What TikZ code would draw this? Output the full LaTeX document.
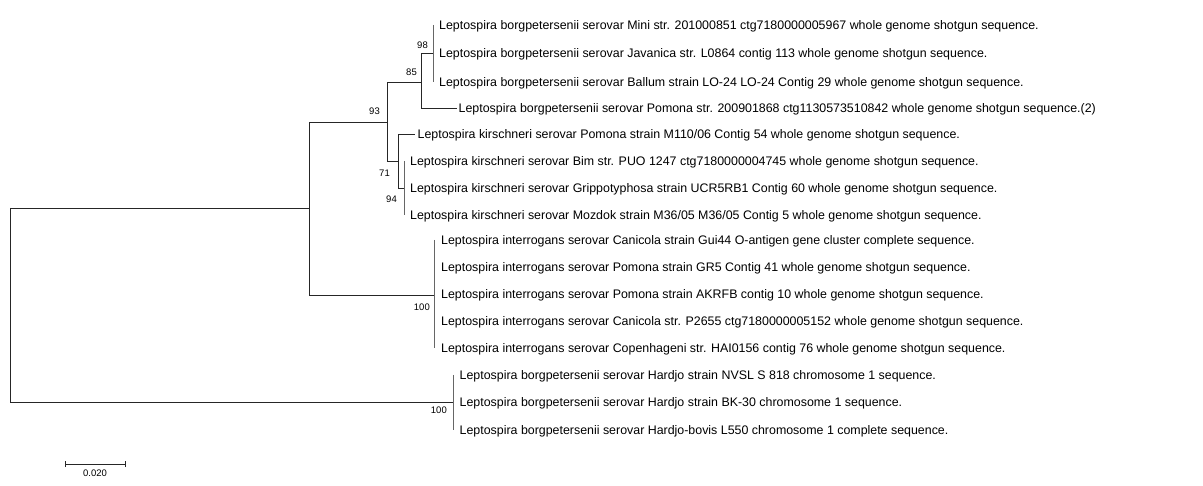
\documentclass[tikz,border=0pt]{standalone}
\usepackage{fontspec}
\setmainfont{Liberation Sans}
\begin{document}
\begin{tikzpicture}[x=1bp,y=-1bp,
  br/.style={draw=black!85,line width=0.9bp},
  zbr/.style={draw=black!60,line width=0.9bp},
  leaf/.style={anchor=base west,inner sep=0pt,font=\fontsize{12.4bp}{14bp}\selectfont},
  boot/.style={anchor=base east,inner sep=0pt,font=\fontsize{9.5bp}{11bp}\selectfont}]
\useasboundingbox (0,0) rectangle (1203,486);
% internal nodes
\coordinate (root) at (10,208);
\coordinate (A) at (309.5,208);
\coordinate (B) at (387,122);
\coordinate (C) at (421,82);
\coordinate (D) at (433.5,53.5);
\coordinate (E) at (398,161);
\coordinate (F) at (404,188);
\coordinate (G) at (434,295);
\coordinate (H) at (453.5,402);
% leaf tips
\coordinate (t1) at (433.5,25);
\coordinate (t2) at (433.5,53.5);
\coordinate (t3) at (433.5,82);
\coordinate (t4) at (457,108);
\coordinate (t5) at (415,134.5);
\coordinate (t6) at (404,161);
\coordinate (t7) at (404,188);
\coordinate (t8) at (404,215);
\coordinate (t9) at (434,240);
\coordinate (t10) at (434,348);
\coordinate (t11) at (453.5,375);
\coordinate (t12) at (453.5,430);
% branches
\draw[br] (root) |- (A);
\draw[br] (root) |- (H);
\draw[br] (A) |- (B);
\draw[br] (A) |- (G);
\draw[br] (B) |- (C);
\draw[br] (B) |- (E);
\draw[br] (C) |- (D);
\draw[br] (C) |- (t4);
\draw[br] (E) |- (t5);
\draw[br] (E) |- (F);
\draw[zbr] (t1) -- (t3);
\draw[zbr] (t6) -- (t8);
\draw[zbr] (t9) -- (t10);
\draw[zbr] (t11) -- (t12);
% leaf labels
\node[leaf] (l1) at (439,29.5) {Leptospira borgpetersenii serovar Mini str. 201000851 ctg7180000005967 whole genome shotgun sequence.};
\node[leaf] (l2) at (439,58) {Leptospira borgpetersenii serovar Javanica str. L0864 contig 113 whole genome shotgun sequence.};
\node[leaf] (l3) at (439,86.5) {Leptospira borgpetersenii serovar Ballum strain LO-24 LO-24 Contig 29 whole genome shotgun sequence.};
\node[leaf] (l4) at (458.5,112.5) {Leptospira borgpetersenii serovar Pomona str. 200901868 ctg1130573510842 whole genome shotgun sequence.(2)};
\node[leaf] (l5) at (417.5,139) {Leptospira kirschneri serovar Pomona strain M110/06 Contig 54 whole genome shotgun sequence.};
\node[leaf] (l6) at (410,165.5) {Leptospira kirschneri serovar Bim str. PUO 1247 ctg7180000004745 whole genome shotgun sequence.};
\node[leaf] (l7) at (410,192.5) {Leptospira kirschneri serovar Grippotyphosa strain UCR5RB1 Contig 60 whole genome shotgun sequence.};
\node[leaf] (l8) at (410,219.5) {Leptospira kirschneri serovar Mozdok strain M36/05 M36/05 Contig 5 whole genome shotgun sequence.};
\node[leaf] (l9) at (441,244.5) {Leptospira interrogans serovar Canicola strain Gui44 O-antigen gene cluster complete sequence.};
\node[leaf] (l10) at (441,271.5) {Leptospira interrogans serovar Pomona strain GR5 Contig 41 whole genome shotgun sequence.};
\node[leaf] (l11) at (441,298.5) {Leptospira interrogans serovar Pomona strain AKRFB contig 10 whole genome shotgun sequence.};
\node[leaf] (l12) at (441,325.5) {Leptospira interrogans serovar Canicola str. P2655 ctg7180000005152 whole genome shotgun sequence.};
\node[leaf] (l13) at (441,352.5) {Leptospira interrogans serovar Copenhageni str. HAI0156 contig 76 whole genome shotgun sequence.};
\node[leaf] (l14) at (459.5,379.5) {Leptospira borgpetersenii serovar Hardjo strain NVSL S 818 chromosome 1 sequence.};
\node[leaf] (l15) at (459.5,406.5) {Leptospira borgpetersenii serovar Hardjo strain BK-30 chromosome 1 sequence.};
\node[leaf] (l16) at (459.5,434) {Leptospira borgpetersenii serovar Hardjo-bovis L550 chromosome 1 complete sequence.};
% bootstrap values
\node[boot] (bD) at (428,48.5) {98};
\node[boot] (bC) at (417,75.5) {85};
\node[boot] (bB) at (380,114.5) {93};
\node[boot] (bE) at (390,176.5) {71};
\node[boot] (bF) at (397,202.5) {94};
\node[boot] (bG) at (430,310.5) {100};
\node[boot] (bH) at (447,413.5) {100};
% scale bar
\coordinate (s1) at (65,464);
\coordinate (s2) at (125,464);
\draw[br] (s1) -- (s2);
\draw[br] ([yshift=-3bp]s1) -- ([yshift=3bp]s1);
\draw[br] ([yshift=-3bp]s2) -- ([yshift=3bp]s2);
\node[inner sep=0pt,anchor=base,font=\fontsize{9.5bp}{11bp}\selectfont] (sl) at (95,476) {0.020};
\end{tikzpicture}
\end{document}
